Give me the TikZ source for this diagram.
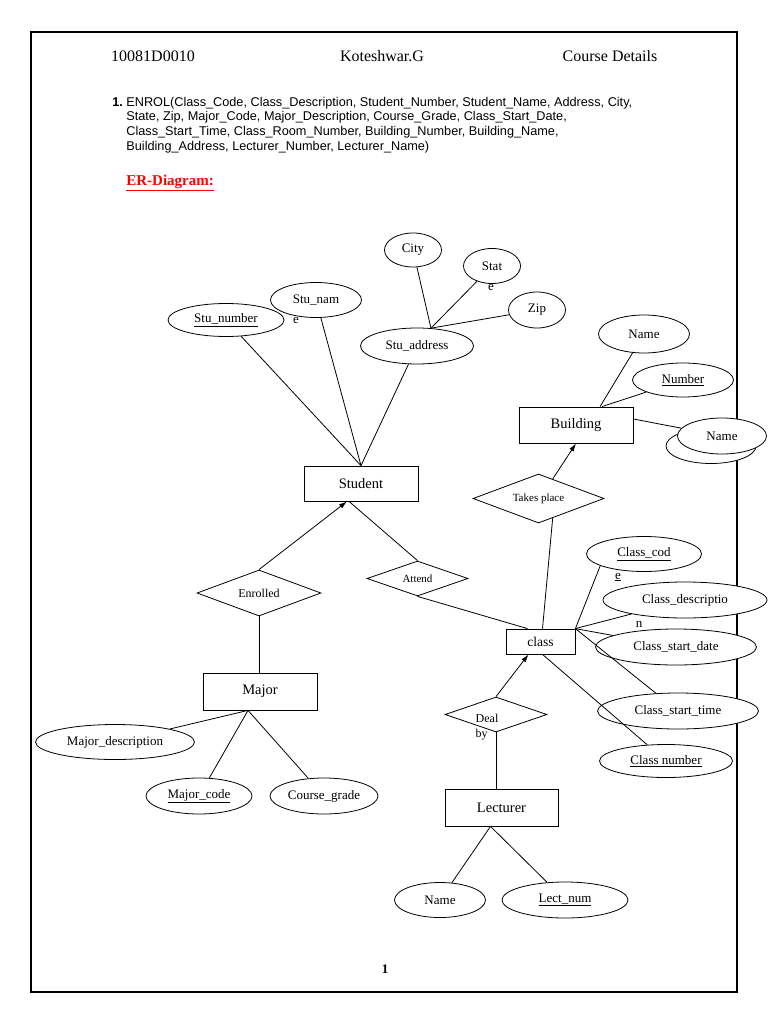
\documentclass[tikz,border=0pt]{standalone}
\usepackage{fontspec}
\setmainfont{Liberation Serif}
\setsansfont{Liberation Sans}
\usepackage{tikz}
\usetikzlibrary{positioning,shapes.geometric,arrows.meta}
\tikzset{
  attr/.style={ellipse, draw, fill=white, inner sep=0pt, font=\fontsize{13}{15}\selectfont},
  ent/.style={rectangle, draw, fill=white, inner sep=0pt, minimum width=114pt, minimum height=36pt, font=\fontsize{14.5}{17}\selectfont},
  rel/.style={diamond, draw, fill=white, inner sep=0pt, aspect=2.9, font=\fontsize{12}{14}\selectfont},
  hdr/.style={font=\fontsize{16}{19}\selectfont},
  frag/.style={inner sep=0pt, font=\fontsize{13}{15}\selectfont},
  >={Latex[length=8pt,width=5pt]}
}

\begin{document}
\begin{tikzpicture}[x=1pt, y=-1pt, line width=0.8pt]

  \useasboundingbox (0,0) rectangle (768,1024);
  \draw [line width=2.4pt] (31,32) rectangle (737,992);

  \node [hdr] (Roll) at (153,56) {10081D0010};
  \node [hdr] (Author) at (382,56) {Koteshwar.G};
  \node [hdr] (Title) at (610,56) {Course Details};

  \node [anchor=west, inner sep=0pt, font=\sffamily\bfseries\fontsize{12.7}{14.7}\selectfont] (Item) at (112,102) {1.};
  \node [anchor=north west, align=left, inner sep=0pt, font=\sffamily\fontsize{12.7}{14.7}\selectfont] (Enrol) at (126,96.5)
    {ENROL(Class\_Code, Class\_Description, Student\_Number, Student\_Name, Address, City,\\
     State, Zip, Major\_Code, Major\_Description, Course\_Grade, Class\_Start\_Date,\\
     Class\_Start\_Time, Class\_Room\_Number, Building\_Number, Building\_Name,\\
     Building\_Address, Lecturer\_Number, Lecturer\_Name)};
  \node [anchor=west, inner sep=0pt, text=red, font=\bfseries\fontsize{15}{18}\selectfont] (ERd) at (126,183) {\underline{ER-Diagram:}};

  \node [attr, minimum width=116pt, minimum height=33pt] (Snum) at (226,320) {\underline{Stu\_number}};
  \node [attr, minimum width=91pt, minimum height=35pt] (Snam) at (316,300) {Stu\_nam};
  \node [frag] (SnamE) at (296,320) {e};
  \node [attr, minimum width=57pt, minimum height=34pt] (City) at (413,250) {City};
  \node [attr, minimum width=57pt, minimum height=35pt] (State) at (492,266) {Stat};
  \node [frag] (StateE) at (491,287) {e};
  \node [attr, minimum width=57pt, minimum height=36pt] (Zip) at (537,310) {Zip};
  \node [attr, minimum width=113pt, minimum height=36pt] (Sadd) at (417,346) {Stu\_address};
  \node [ent, minimum height=35pt] (Stu) at (361,483.5) {Student};

  \node [attr, minimum width=91pt, minimum height=38pt] (Bname) at (644,334) {Name};
  \node [attr, minimum width=101pt, minimum height=34pt] (Bnum) at (683,380) {\underline{Number}};
  \node [ent] (Bld) at (576,425) {Building};
  \node [attr, minimum width=90pt, minimum height=35pt] (Badd) at (711,446) {};
  \node [attr, minimum width=89pt, minimum height=36pt] (Bname2) at (722,436) {Name};
  \node [rel, minimum width=131pt, minimum height=49pt, font=\fontsize{11}{13}\selectfont] (Take) at (538.5,498.5) {Takes place};

  \node [rel, minimum width=124pt, minimum height=46pt] (Enr) at (259,593) {Enrolled};
  \node [rel, minimum width=101pt, minimum height=35pt, font=\fontsize{11}{13}\selectfont] (Att) at (417.5,578.5) {Attend};

  \node [ent, minimum width=69pt, minimum height=25pt, font=\fontsize{13.5}{16}\selectfont] (Cls) at (540.5,641.5) {class};
  \node [attr, minimum width=115pt, minimum height=35pt] (Ccode) at (644,554) {\underline{Class\_cod}};
  \node [frag] (CcodeE) at (618,577) {\underline{e}};
  \node [attr, minimum width=164pt, minimum height=36pt] (Cdesc) at (685,600) {Class\_descriptio};
  \node [frag] (CdescN) at (639,624) {n};
  \node [attr, minimum width=161pt, minimum height=36pt] (Cdate) at (676,647) {Class\_start\_date};
  \node [attr, minimum width=161pt, minimum height=36pt] (Ctime) at (678,711) {Class\_start\_time};
  \node [attr, minimum width=133pt, minimum height=33pt] (Cnum) at (666,761) {\underline{Class number}};

  \node [rel, minimum width=102pt, minimum height=35pt] (Deal) at (496,714.5) {};
  \node [align=left, inner sep=0pt, font=\fontsize{12}{15}\selectfont] (DealTxt) at (487,727) {Deal\\by};
  \node [ent, minimum width=113pt, minimum height=37pt] (Lec) at (501.5,807.5) {Lecturer};
  \node [attr, minimum width=91pt, minimum height=35pt] (Lname) at (440,900) {Name};
  \node [attr, minimum width=126pt, minimum height=36pt] (Lnum) at (565,900) {\underline{Lect\_num}};

  \node [ent, minimum height=37pt] (Maj) at (260,691.5) {Major};
  \node [attr, minimum width=159pt, minimum height=35pt] (Mdesc) at (115,742) {Major\_description};
  \node [attr, minimum width=106pt, minimum height=36pt] (Mcode) at (199,796) {\underline{Major\_code}};
  \node [attr, minimum width=108pt, minimum height=36pt] (Grade) at (324,796) {Course\_grade};

  \node [font=\bfseries\fontsize{13}{15}\selectfont] (Page) at (385,969) {1};

  \draw (Snum) to (Stu.north);
  \draw (Snam) to (Stu.north);
  \draw (Sadd) to (Stu.north);
  \draw (City) to (Sadd.52);
  \draw (State) to (Sadd.52);
  \draw (Zip) to (Sadd.52);

  \draw (Bname) to ([xshift=24pt]Bld.north);
  \draw (Bnum) to ([xshift=26pt]Bld.north);
  \draw ([yshift=6pt]Bld.east) to (Bname2);
  \draw [->] (Take.54) to (Bld.south);
  \draw ([xshift=2pt]Cls.north) to (Take.-54);

  \draw [->] (Enr.north) to ([xshift=-14pt]Stu.south);
  \draw ([xshift=-12pt]Stu.south) to (Att.north);
  \draw (Att.south) to ([xshift=-13pt]Cls.north);
  \draw (Enr.south) to (Enr.south |- Maj.north);

  \draw (Cls.north east) to (Ccode.195);
  \draw (Cls.north east) to (Cdesc);
  \draw (Cls.north east) to (Cdate);
  \draw (Cls.north east) to (Ctime);
  \draw ([xshift=2pt]Cls.south) to (Cnum);

  \draw [->] (Deal.north) to ([xshift=-12pt]Cls.south);
  \draw (Deal.south) to (Deal.south |- Lec.north);
  \draw ([xshift=-11pt]Lec.south) to (Lname);
  \draw ([xshift=-11pt]Lec.south) to (Lnum);

  \draw ([xshift=-12pt]Maj.south) to (Mdesc);
  \draw ([xshift=-12pt]Maj.south) to (Mcode);
  \draw ([xshift=-12pt]Maj.south) to (Grade);

\end{tikzpicture}
\end{document}
